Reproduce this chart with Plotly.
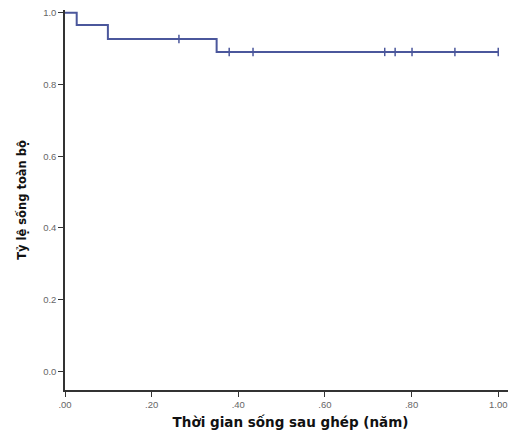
import plotly.graph_objects as go

# Kaplan-Meier step data
step_times = [0.0, 0.027, 0.099, 0.35, 1.0]
step_surv = [1.0, 0.966, 0.927, 0.891, 0.891]

# Censored observations
censor_times = [0.263, 0.379, 0.434, 0.738, 0.762, 0.801, 0.90, 1.0]
censor_surv = [0.927, 0.891, 0.891, 0.891, 0.891, 0.891, 0.891, 0.891]

x_ticks = [0.0, 0.2, 0.4, 0.6, 0.8, 1.0]
x_ticklabels = [".00", ".20", ".40", ".60", ".80", "1.00"]
y_ticks = [0.0, 0.2, 0.4, 0.6, 0.8, 1.0]
y_ticklabels = ["0.0", "0.2", "0.4", "0.6", "0.8", "1.0"]

line_color = "#4b579c"

fig = go.Figure()
fig.add_trace(go.Scatter(
    x=step_times, y=step_surv, mode="lines", line_shape="hv",
    line=dict(color=line_color, width=2), showlegend=False, hoverinfo="skip"))
fig.add_trace(go.Scatter(
    x=censor_times, y=censor_surv, mode="markers",
    marker=dict(symbol="line-ns", size=6, line=dict(color=line_color, width=1.5)),
    showlegend=False, hoverinfo="skip"))

axis_font = dict(family="Liberation Sans, Arial, sans-serif", size=9.5, color="#666666")
title_font = dict(family="DejaVu Sans, sans-serif", size=13.5, color="#111111")

fig.update_layout(
    width=508, height=430,
    margin=dict(l=57, r=0, t=2, b=48),
    paper_bgcolor="white", plot_bgcolor="white",
    xaxis=dict(
        range=[0, 1.041], tickvals=x_ticks, ticktext=x_ticklabels,
        showgrid=False, zeroline=False, showline=True, linecolor="#333333", linewidth=1.5,
        ticks="outside", ticklen=5, tickcolor="#333333", tickfont=axis_font,
        ticklabeloverflow="allow",
        title=dict(text="<b>Thời gian sống sau ghép (năm)</b>", font=title_font, standoff=8)),
    yaxis=dict(
        range=[-0.052, 1.008], tickvals=y_ticks, ticktext=y_ticklabels,
        showgrid=False, zeroline=False, showline=True, linecolor="#333333", linewidth=1.5,
        ticks="outside", ticklen=5, tickcolor="#333333", tickfont=axis_font,
        ticklabeloverflow="allow",
        title=dict(text="<b>Tỷ lệ sống toàn bộ</b>", font=dict(family="DejaVu Sans, sans-serif", size=11.5, color="#111111"), standoff=14)),
)

fig.write_html("out.html")
